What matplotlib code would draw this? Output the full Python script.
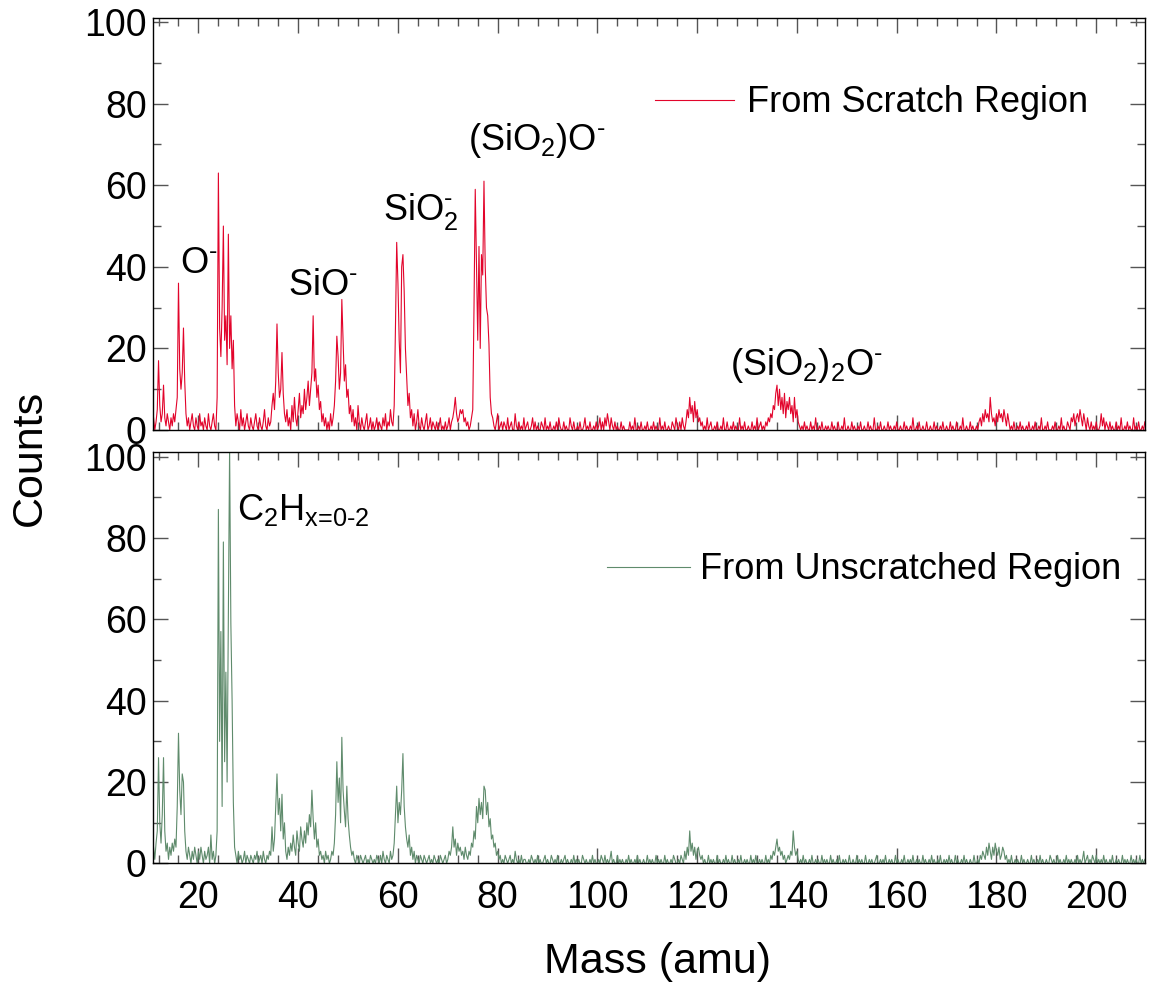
import numpy as np
import matplotlib
matplotlib.use("Agg")
import matplotlib.pyplot as plt
from matplotlib.ticker import MultipleLocator

# spectra sampled every 0.25 amu starting at 11 amu; one row = 5 amu
MASS_START = 11.0
MASS_STEP = 0.25

SCRATCH_COUNTS = [
    [3, 0, 2, 5, 17, 6, 2, 4, 11, 3, 1, 4, 2, 0, 3, 1, 4, 2, 5, 8],
    [36, 15, 10, 14, 25, 12, 4, 1, 3, 0, 2, 4, 1, 0, 3, 1, 0, 4, 1, 2],
    [0, 3, 1, 0, 4, 1, 0, 2, 4, 1, 0, 8, 63, 25, 18, 30, 50, 22, 28, 16],
    [48, 20, 28, 15, 22, 6, 1, 4, 2, 0, 5, 1, 3, 0, 2, 4, 1, 0, 3, 1],
    [0, 2, 4, 1, 0, 3, 1, 0, 2, 5, 1, 0, 3, 1, 2, 6, 9, 5, 12, 26],
    [14, 8, 10, 19, 9, 4, 2, 5, 1, 3, 0, 6, 2, 8, 3, 1, 5, 9, 3, 6],
    [4, 10, 5, 8, 12, 6, 10, 14, 28, 12, 15, 8, 11, 5, 7, 2, 4, 1, 3, 0],
    [2, 0, 4, 1, 3, 6, 12, 23, 18, 10, 14, 32, 22, 12, 16, 8, 10, 4, 6, 2],
    [5, 1, 3, 0, 6, 2, 0, 3, 1, 0, 2, 4, 0, 1, 3, 0, 2, 0, 1, 3],
    [0, 2, 1, 0, 3, 1, 4, 0, 2, 1, 5, 2, 1, 6, 25, 46, 36, 22, 14, 40],
    [43, 34, 20, 13, 6, 9, 3, 5, 1, 4, 0, 2, 5, 1, 0, 3, 1, 0, 2, 4],
    [0, 1, 3, 0, 2, 1, 0, 2, 0, 1, 3, 0, 1, 0, 2, 0, 1, 3, 0, 2],
    [3, 5, 8, 4, 2, 3, 5, 4, 5, 2, 3, 1, 2, 0, 1, 3, 5, 30, 59, 40],
    [22, 45, 20, 43, 38, 61, 40, 30, 28, 21, 8, 4, 3, 1, 0, 2, 4, 0, 1, 2],
    [0, 2, 1, 0, 3, 0, 1, 2, 0, 0, 4, 1, 0, 2, 0, 1, 0, 3, 0, 1],
    [2, 0, 0, 1, 3, 0, 2, 0, 1, 0, 0, 2, 1, 0, 3, 0, 1, 0, 2, 0],
    [0, 1, 0, 2, 0, 3, 1, 0, 0, 2, 0, 1, 0, 0, 3, 1, 0, 2, 0, 0],
    [1, 0, 2, 0, 0, 1, 3, 0, 1, 0, 2, 0, 0, 1, 0, 2, 0, 1, 3, 0],
    [2, 0, 3, 1, 4, 2, 0, 3, 1, 0, 2, 0, 1, 0, 0, 2, 0, 1, 0, 0],
    [0, 0, 2, 0, 1, 0, 3, 0, 0, 1, 0, 2, 0, 0, 1, 0, 2, 0, 0, 1],
    [0, 2, 0, 1, 0, 0, 3, 0, 1, 0, 2, 0, 0, 1, 0, 0, 2, 1, 0, 3],
    [1, 0, 2, 0, 3, 1, 0, 2, 5, 3, 8, 4, 6, 2, 7, 3, 5, 2, 3, 1],
    [2, 0, 1, 0, 3, 0, 1, 2, 0, 0, 1, 0, 2, 0, 0, 1, 0, 3, 0, 0],
    [2, 0, 0, 1, 0, 2, 0, 1, 0, 0, 3, 0, 1, 0, 2, 0, 0, 1, 0, 0],
    [2, 0, 1, 0, 3, 0, 1, 2, 0, 1, 0, 2, 1, 3, 2, 4, 3, 6, 5, 9],
    [11, 6, 10, 5, 8, 4, 9, 3, 7, 5, 8, 4, 6, 2, 8, 3, 5, 2, 1, 0],
    [1, 0, 2, 0, 1, 0, 0, 2, 0, 1, 0, 3, 0, 0, 1, 0, 2, 0, 0, 1],
    [0, 1, 0, 0, 2, 0, 1, 0, 0, 2, 0, 0, 1, 0, 3, 0, 0, 1, 0, 0],
    [2, 0, 1, 0, 0, 1, 0, 2, 0, 0, 1, 0, 0, 2, 0, 1, 0, 0, 3, 0],
    [0, 1, 0, 2, 0, 0, 1, 0, 0, 2, 0, 1, 0, 0, 1, 0, 2, 0, 0, 1],
    [0, 0, 2, 0, 1, 0, 0, 1, 0, 3, 0, 0, 1, 0, 2, 0, 0, 1, 0, 0],
    [2, 0, 0, 1, 0, 0, 2, 0, 1, 0, 0, 1, 0, 2, 0, 0, 1, 0, 0, 2],
    [0, 1, 0, 0, 2, 0, 0, 1, 0, 3, 0, 0, 1, 0, 0, 2, 0, 1, 0, 0],
    [1, 0, 2, 3, 1, 4, 2, 5, 3, 4, 2, 8, 4, 2, 3, 1, 4, 2, 5, 3],
    [4, 2, 5, 3, 1, 4, 2, 0, 1, 0, 2, 0, 0, 1, 0, 2, 0, 1, 0, 0],
    [1, 0, 2, 0, 0, 1, 0, 2, 0, 0, 1, 0, 3, 0, 0, 1, 0, 2, 0, 0],
    [0, 1, 0, 2, 0, 0, 1, 0, 3, 0, 1, 0, 0, 2, 1, 0, 3, 2, 4, 1],
    [3, 4, 2, 5, 3, 1, 4, 2, 0, 3, 1, 0, 2, 0, 1, 0, 2, 0, 0, 1],
    [4, 1, 3, 0, 2, 1, 0, 2, 0, 1, 0, 0, 2, 0, 1, 0, 3, 0, 0, 1],
    [0, 2, 0, 1, 0, 0, 3, 0, 1, 0, 2, 0, 0, 1, 0, 2],
]

UNSCRATCHED_COUNTS = [
    [4, 1, 5, 8, 26, 10, 5, 12, 26, 8, 3, 5, 1, 4, 2, 5, 3, 6, 4, 14],
    [32, 18, 12, 22, 20, 8, 3, 1, 4, 2, 0, 3, 1, 4, 2, 0, 3, 1, 4, 2],
    [0, 3, 1, 2, 4, 0, 7, 1, 3, 0, 2, 8, 87, 30, 57, 14, 79, 25, 47, 20],
    [62, 102, 59, 40, 15, 4, 2, 0, 3, 1, 2, 0, 1, 3, 0, 2, 1, 0, 2, 1],
    [0, 2, 1, 3, 0, 1, 2, 0, 3, 1, 0, 2, 1, 3, 2, 9, 3, 6, 14, 22],
    [12, 16, 8, 17, 6, 10, 3, 1, 4, 2, 5, 3, 7, 4, 2, 8, 5, 3, 9, 6],
    [4, 8, 5, 10, 7, 12, 9, 18, 11, 6, 10, 4, 6, 2, 3, 1, 2, 0, 3, 1],
    [2, 0, 1, 3, 2, 5, 12, 25, 15, 21, 10, 31, 18, 13, 9, 19, 11, 7, 4, 2],
    [3, 1, 0, 2, 1, 0, 2, 1, 0, 1, 2, 0, 1, 0, 2, 1, 0, 1, 0, 2],
    [1, 0, 2, 0, 3, 1, 0, 2, 1, 0, 3, 1, 2, 5, 12, 19, 10, 15, 12, 18],
    [27, 14, 9, 6, 4, 7, 2, 4, 1, 3, 0, 2, 1, 0, 2, 1, 0, 2, 1, 0],
    [1, 2, 0, 1, 0, 2, 1, 0, 1, 0, 2, 1, 0, 1, 2, 0, 1, 3, 2, 4],
    [9, 4, 6, 2, 5, 3, 4, 2, 3, 1, 4, 2, 1, 3, 2, 5, 4, 8, 6, 14],
    [10, 16, 12, 15, 11, 19, 18, 12, 15, 9, 11, 6, 7, 4, 5, 2, 3, 1, 2, 0],
    [1, 0, 2, 1, 0, 1, 2, 0, 1, 0, 3, 1, 0, 1, 0, 2, 0, 1, 1, 0],
    [0, 1, 0, 2, 1, 0, 1, 0, 2, 0, 1, 0, 0, 1, 2, 0, 1, 0, 0, 2],
    [1, 0, 1, 0, 2, 0, 0, 1, 0, 1, 2, 0, 1, 0, 0, 1, 0, 2, 0, 1],
    [0, 1, 0, 0, 2, 1, 0, 1, 0, 0, 1, 0, 2, 0, 1, 0, 0, 1, 0, 2],
    [1, 0, 2, 0, 1, 0, 1, 3, 0, 1, 0, 0, 2, 0, 1, 0, 1, 0, 0, 1],
    [0, 2, 0, 1, 0, 0, 1, 0, 2, 0, 1, 0, 0, 1, 0, 0, 2, 0, 1, 0],
    [1, 0, 0, 2, 0, 1, 0, 1, 0, 0, 2, 0, 1, 0, 0, 1, 0, 2, 1, 0],
    [0, 1, 0, 2, 1, 0, 3, 1, 4, 2, 8, 3, 5, 2, 4, 1, 3, 4, 2, 1],
    [2, 0, 1, 0, 0, 2, 0, 1, 0, 1, 0, 0, 2, 0, 1, 0, 0, 1, 0, 2],
    [0, 1, 0, 0, 2, 0, 1, 0, 0, 1, 0, 2, 0, 0, 1, 0, 1, 0, 0, 2],
    [0, 1, 0, 2, 0, 0, 1, 0, 1, 0, 0, 2, 0, 1, 0, 2, 1, 3, 2, 4],
    [6, 3, 4, 2, 3, 1, 2, 0, 1, 2, 1, 3, 2, 8, 4, 2, 3, 1, 0, 1],
    [0, 2, 0, 1, 0, 0, 1, 0, 2, 0, 0, 1, 0, 1, 0, 0, 2, 0, 1, 0],
    [1, 0, 0, 2, 0, 1, 0, 0, 1, 0, 2, 0, 0, 1, 0, 1, 0, 0, 2, 0],
    [0, 1, 0, 0, 2, 0, 1, 0, 1, 0, 0, 2, 0, 0, 1, 0, 1, 0, 0, 1],
    [2, 0, 0, 1, 0, 1, 0, 2, 0, 0, 1, 0, 1, 0, 0, 2, 0, 1, 0, 0],
    [1, 0, 2, 0, 0, 1, 0, 1, 0, 2, 0, 0, 1, 0, 1, 0, 0, 2, 0, 1],
    [0, 0, 1, 0, 2, 0, 1, 0, 0, 1, 0, 2, 0, 0, 1, 0, 1, 0, 2, 0],
    [1, 0, 0, 2, 0, 1, 0, 0, 1, 0, 2, 0, 1, 0, 0, 1, 0, 0, 2, 0],
    [0, 1, 0, 2, 1, 3, 2, 1, 4, 2, 5, 3, 1, 4, 2, 5, 3, 2, 4, 1],
    [2, 4, 3, 1, 2, 0, 1, 0, 2, 0, 0, 1, 0, 1, 0, 0, 2, 0, 1, 0],
    [0, 1, 0, 0, 2, 0, 1, 0, 0, 1, 0, 2, 0, 1, 0, 0, 1, 0, 0, 2],
    [1, 0, 1, 0, 0, 2, 0, 1, 0, 0, 1, 0, 2, 0, 1, 0, 1, 0, 0, 1],
    [0, 2, 0, 1, 0, 1, 3, 0, 1, 2, 0, 1, 0, 2, 1, 0, 2, 0, 1, 0],
    [1, 0, 2, 0, 1, 0, 0, 1, 0, 2, 0, 0, 1, 0, 1, 0, 0, 2, 0, 1],
    [0, 1, 0, 0, 2, 0, 1, 0, 1, 0, 0, 2, 0, 1, 0, 1],
]

SERIES_LABELS = ["From Scratch Region", "From Unscratched Region"]
PEAK_LABELS = [r"$\mathrm{O^{\text{-}}}$", r"$\mathrm{SiO^{\text{-}}}$",
               r"$\mathrm{SiO_2^{\text{-}}}$", r"$\mathrm{(SiO_2)O^{\text{-}}}$",
               r"$\mathrm{(SiO_2)_2O^{\text{-}}}$"]
PEAK_LABEL_POS = [(16.3, 38.5), (38.0, 33.0), (57.1, 51.5), (74.1, 68.6), (126.6, 13.5)]
C2H_LABEL = r"$\mathrm{C_2H_{\text{x=0-2}}}$"

RED = "#e2042b"
GREEN = "#5f8b6c"

plt.rcParams["font.family"] = "Liberation Sans"
plt.rcParams["mathtext.fontset"] = "custom"
plt.rcParams["mathtext.rm"] = "Liberation Sans"
plt.rcParams["mathtext.it"] = "Liberation Sans:italic"
plt.rcParams["mathtext.bf"] = "Liberation Sans:bold"


def flat(rows):
    counts = np.concatenate([np.asarray(r, dtype=float) for r in rows])
    mass = MASS_START + MASS_STEP * np.arange(len(counts))
    return mass, counts


def style_axis(ax, show_xlabels):
    ax.set_xlim(10.9, 209.8)
    ax.set_ylim(0, 101)
    ax.xaxis.set_major_locator(MultipleLocator(20))
    ax.xaxis.set_minor_locator(MultipleLocator(4))
    ax.yaxis.set_major_locator(MultipleLocator(20))
    ax.yaxis.set_minor_locator(MultipleLocator(10))
    ax.tick_params(which="both", direction="in", top=True, right=True,
                   color="#555555", width=1.0, labelsize=27)
    ax.tick_params(which="major", length=11)
    ax.tick_params(which="minor", length=5.5)
    ax.tick_params(axis="y", pad=4.5)
    ax.tick_params(axis="x", pad=12, labelbottom=show_xlabels)
    for sp in ax.spines.values():
        sp.set_linewidth(1.0)


fig = plt.figure(figsize=(11.49, 9.84), dpi=100)
ax_top = fig.add_axes([0.1332, 0.5630, 0.8634, 0.4187])
ax_bot = fig.add_axes([0.1332, 0.1225, 0.8634, 0.4177])

m_s, c_s = flat(SCRATCH_COUNTS)
m_u, c_u = flat(UNSCRATCHED_COUNTS)

ax_top.plot(m_s, c_s, color=RED, linewidth=0.8, label=SERIES_LABELS[0])
ax_bot.plot(m_u, c_u, color=GREEN, linewidth=0.8, label=SERIES_LABELS[1])

style_axis(ax_top, False)
style_axis(ax_bot, True)

ax_top.legend(loc="center left", bbox_to_anchor=(0.506, 0.794), frameon=False,
              fontsize=26, handlelength=2.2, handletextpad=0.36,
              borderpad=0, borderaxespad=0)
ax_bot.legend(loc="center left", bbox_to_anchor=(0.4577, 0.714), frameon=False,
              fontsize=26, handlelength=2.3, handletextpad=0.28,
              borderpad=0, borderaxespad=0)

for txt, (x, y) in zip(PEAK_LABELS, PEAK_LABEL_POS):
    ax_top.text(x, y, txt, fontsize=26, ha="left", va="baseline")
ax_bot.text(27.8, 84.4, C2H_LABEL, fontsize=26, ha="left", va="baseline")

fig.text(657 / 1149, 1 - 962 / 984, "Mass (amu)", fontsize=31,
         ha="center", va="center")
fig.text(30 / 1149, 1 - 458 / 984, "Counts", fontsize=31, rotation=90,
         ha="center", va="center")

fig.savefig("out.png", dpi=100)
